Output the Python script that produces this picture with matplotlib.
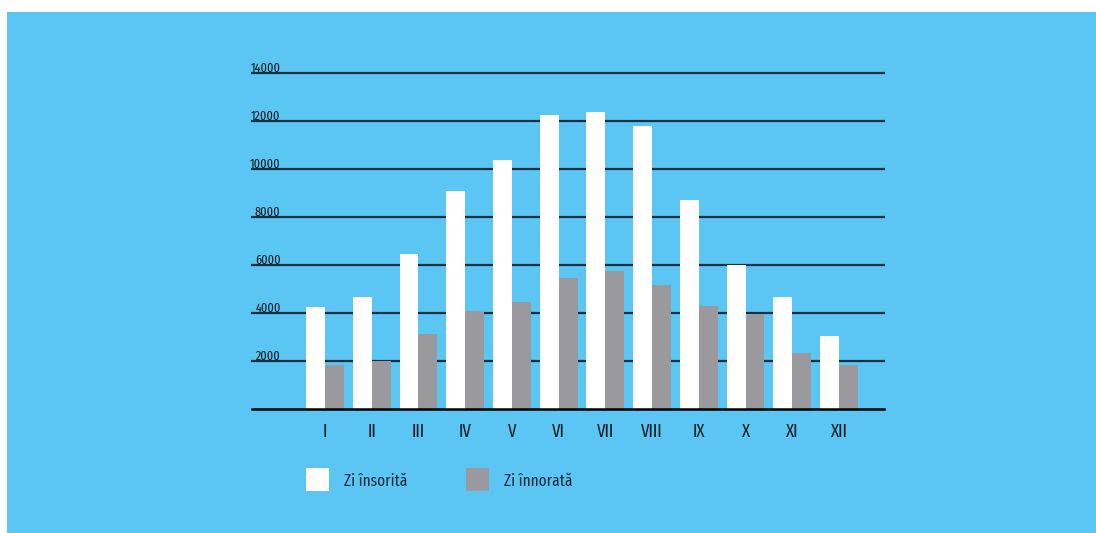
import matplotlib
matplotlib.use("Agg")
import matplotlib.pyplot as plt
from matplotlib.patches import Rectangle

months = ["I", "II", "III", "IV", "V", "VI", "VII", "VIII", "IX", "X", "XI", "XII"]
sunny = [4250, 4670, 6460, 9080, 10370, 12240, 12360, 11780, 8690, 6000, 4660, 3040]
cloudy = [1830, 2000, 3125, 4090, 4450, 5460, 5750, 5170, 4280, 3960, 2330, 1830]
yticks = [2000, 4000, 6000, 8000, 10000, 12000, 14000]
legend_labels = ["Zi însorită", "Zi înnorată"]

BLUE = "#5BC6F3"
GRAY = "#9A999E"
GRID = "#17303d"
TXT = "#1b2f3d"
FONT = ["Fira Sans Extra Condensed", "DejaVu Sans"]
plt.rcParams["font.family"] = FONT

W, H = 1096, 533
fig = plt.figure(figsize=(W / 100, H / 100), dpi=100)
fig.patch.set_facecolor("white")
fig.patches.append(Rectangle((7 / W, 0), 1 - 7 / W, (H - 12) / H,
                             transform=fig.transFigure, facecolor=BLUE,
                             edgecolor="none", zorder=-5))

ax_left, ax_right = 252, 884
ax_top, ax_bot = 73, 409
ax = fig.add_axes([ax_left / W, (H - ax_bot) / H, (ax_right - ax_left) / W,
                   (ax_bot - ax_top) / H])
ax.set_facecolor("none")

x = list(range(len(months)))
bw = 0.405
ax.bar([i - bw / 2 for i in x], sunny, width=bw, color="white", zorder=3)
ax.bar([i + bw / 2 for i in x], cloudy, width=bw, color=GRAY, zorder=3)

for v in yticks:
    ax.axhline(v, color=GRID, lw=1.6, zorder=1, clip_on=False)
    ax.text(-0.95, v + 40, str(v), ha="right", va="baseline",
            fontsize=9.5, color="#101c24")
ax.axhline(0, color="black", lw=1.8, zorder=4, clip_on=False)

ax.set_xlim(-1.562, 11.963)
ax.set_ylim(0, 14000)
ax.set_xticks(x)
ax.set_xticklabels(months, fontsize=13, color="#0d1a22")
ax.tick_params(axis="x", length=0, pad=10)
ax.set_yticks([])
for s in ax.spines.values():
    s.set_visible(False)

# legend
sq = 23
for (lx, col, lab) in [(306, "white", legend_labels[0]), (466, GRAY, legend_labels[1])]:
    fig.patches.append(Rectangle((lx / W, (H - 491) / H), sq / W, sq / H,
                                 transform=fig.transFigure, facecolor=col,
                                 edgecolor="none", zorder=2))
    fig.text((lx + 38) / W, (H - 481) / H, lab, ha="left", va="center",
             fontsize=12, color=TXT)

fig.savefig("out.png", dpi=100, facecolor="white")
